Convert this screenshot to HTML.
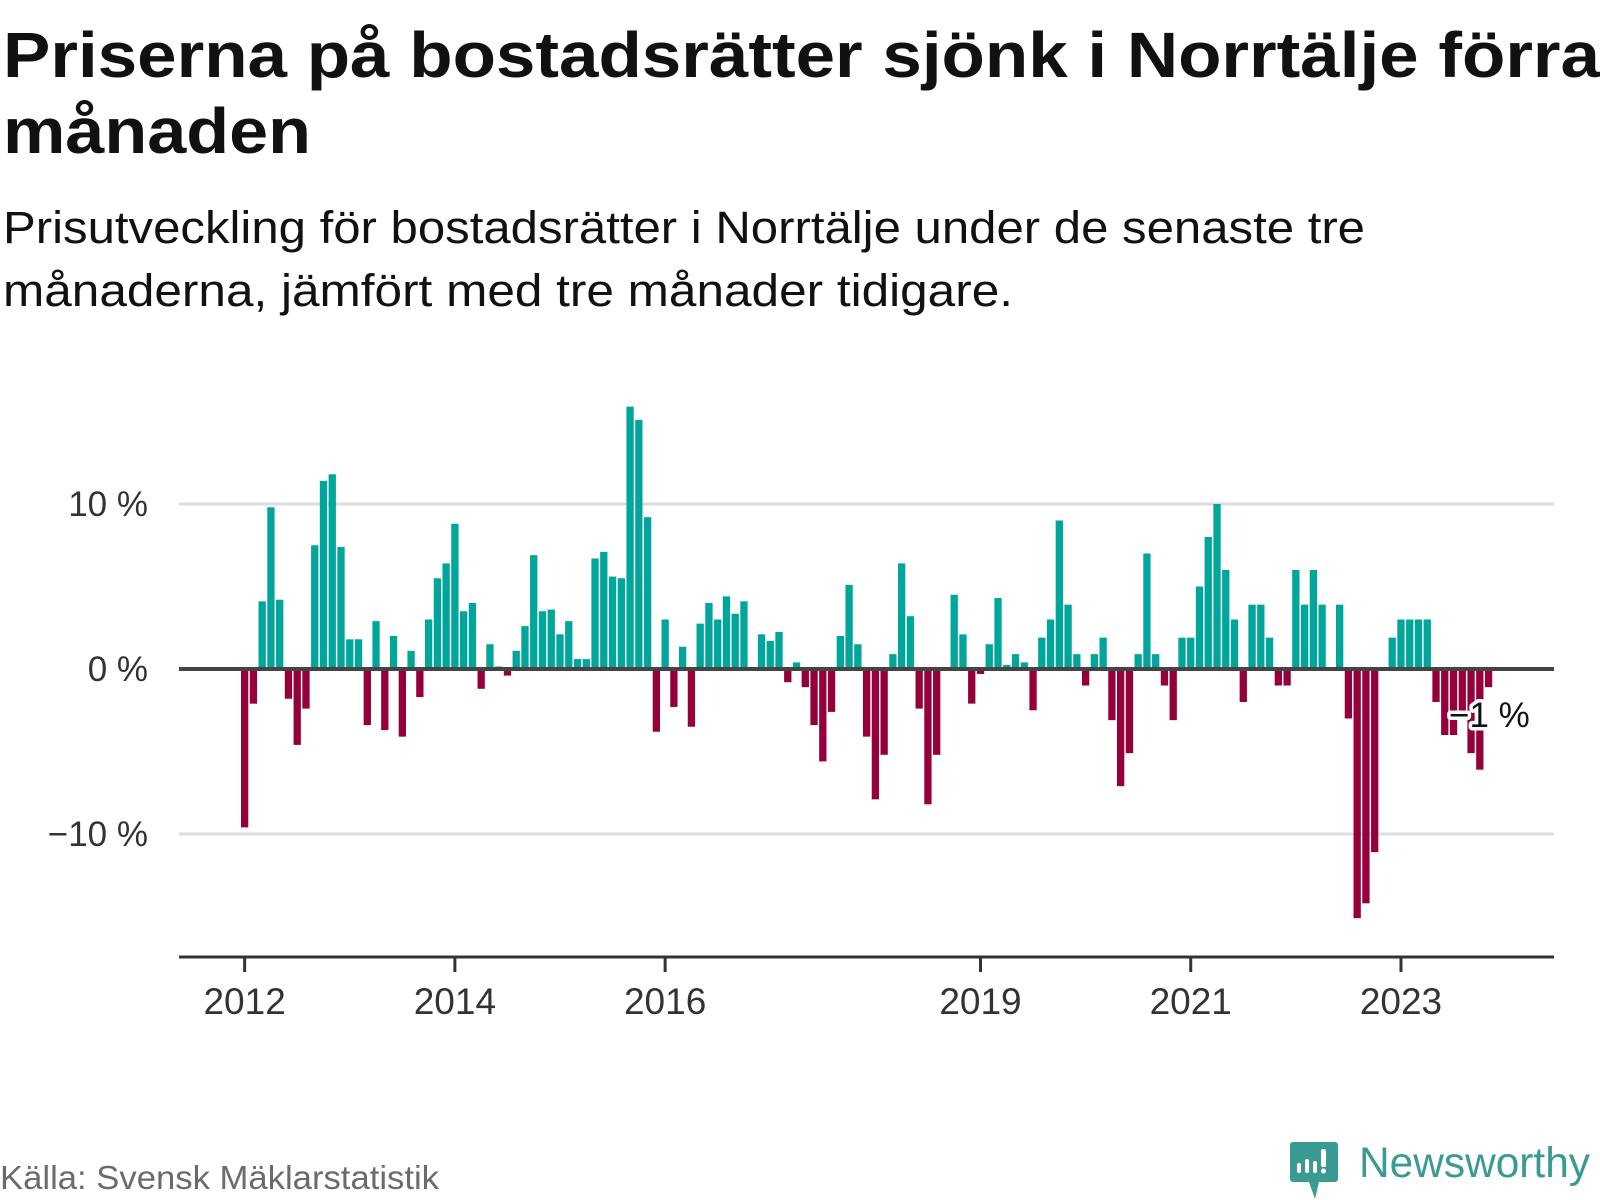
<!DOCTYPE html>
<html><head><meta charset="utf-8"><title>Norrtälje bostadsrätter</title>
<style>
html,body{margin:0;padding:0;background:#fff;}
svg{display:block;font-family:"Liberation Sans",sans-serif;}
</style></head>
<body>
<svg id="chart" width="1600" height="1200" viewBox="0 0 1600 1200" xmlns="http://www.w3.org/2000/svg">
  <g>
    <text x="3" y="77" font-size="64" font-weight="bold" fill="#111" textLength="1597" lengthAdjust="spacingAndGlyphs">Priserna på bostadsrätter sjönk i Norrtälje förra</text>
    <text x="3" y="153" font-size="64" font-weight="bold" fill="#111" textLength="308" lengthAdjust="spacingAndGlyphs">månaden</text>
    <text x="3" y="243" font-size="45" fill="#111" textLength="1362" lengthAdjust="spacingAndGlyphs">Prisutveckling för bostadsrätter i Norrtälje under de senaste tre</text>
    <text x="3" y="306" font-size="45" fill="#111" textLength="1010" lengthAdjust="spacingAndGlyphs">månaderna, jämfört med tre månader tidigare.</text>
  </g>
  <g id="grid"></g>
  <g id="bars"></g>
  <g id="axes"></g>
  <g>
    <text x="0" y="1189" font-size="33" fill="#6b6b6b" textLength="439" lengthAdjust="spacingAndGlyphs">Källa: Svensk Mäklarstatistik</text>
    <g>
      <path d="M1293 1142 h42 a3 3 0 0 1 3 3 v34 a3 3 0 0 1 -3 3 h-16 l-4 17 l-6 -17 h-16 a3 3 0 0 1 -3 -3 v-34 a3 3 0 0 1 3 -3z" fill="#3a9a94"/>
      <rect x="1297" y="1163" width="4" height="10" rx="2" fill="#fff"/>
      <rect x="1305" y="1159" width="4" height="14" rx="2" fill="#fff"/>
      <rect x="1313" y="1161" width="4" height="12" rx="2" fill="#fff"/>
      <rect x="1321" y="1149" width="5" height="18" rx="2" fill="#fff"/>
      <circle cx="1323.5" cy="1171" r="2.5" fill="#fff"/>
      <text x="1359" y="1177" font-size="43" fill="#3a9a94" textLength="231" lengthAdjust="spacingAndGlyphs">Newsworthy</text>
    </g>
  </g>
</svg>
<script>
// Monthly change (%) Jan 2012 .. Nov 2023
const startYear = 2012;
const values2012 = [-9.6,-2.1,4.1,9.8,4.2,-1.8,-4.6,-2.4,7.5,11.4,11.8,7.4];
const values2013 = [1.8,1.8,-3.4,2.9,-3.7,2.0,-4.1,1.1,-1.7,3.0,5.5,6.4];
const values2014 = [8.8,3.5,4.0,-1.2,1.5,0.15,-0.4,1.1,2.6,6.9,3.5,3.6];
const values2015 = [2.1,2.9,0.6,0.6,6.7,7.1,5.6,5.5,15.9,15.1,9.2,-3.8];
const values2016 = [3.0,-2.3,1.35,-3.5,2.75,4.0,3.0,4.4,3.35,4.1,0,2.1];
const values2017 = [1.7,2.25,-0.8,0.4,-1.1,-3.4,-5.6,-2.6,2.0,5.1,1.5,-4.1];
const values2018 = [-7.9,-5.2,0.9,6.4,3.2,-2.4,-8.2,-5.2,0,4.5,2.1,-2.1];
const values2019 = [-0.3,1.5,4.3,0.25,0.9,0.4,-2.5,1.9,3.0,9.0,3.9,0.9];
const values2020 = [-1.0,0.9,1.9,-3.1,-7.1,-5.1,0.9,7.0,0.9,-1.0,-3.1,1.9];
const values2021 = [1.9,5.0,8.0,10.0,6.0,3.0,-2.0,3.9,3.9,1.9,-1.0,-1.0];
const values2022 = [6.0,3.9,6.0,3.9,0,3.9,-3.0,-15.1,-14.2,-11.1,0,1.9];
const values2023 = [3.0,3.0,3.0,3.0,-2.0,-4.0,-4.0,-3.0,-5.1,-6.1,-1.1];
const yTickValues = [10,0,-10];
const yTickLabels = ["10 %","0 %","−10 %"];
const xTickYears = [2012,2014,2016,2019,2021,2023];
const lastLabel = "−1 %";

const values = [].concat(values2012,values2013,values2014,values2015,values2016,values2017,
  values2018,values2019,values2020,values2021,values2022,values2023);

const NS = "http://www.w3.org/2000/svg";
const plotLeft = 179, plotRight = 1554;
const step = 8.76, barW = 7.3, firstBarLeft = 241;
function x(i){ return firstBarLeft + i*step; }
function xc(i){ return x(i) + barW/2; }
function y(v){ return 669 - v*16.5; }
function mk(tag, attrs, parent){
  const el = document.createElementNS(NS, tag);
  for (const k in attrs) el.setAttribute(k, attrs[k]);
  parent.appendChild(el);
  return el;
}
const grid = document.getElementById('grid');
const bars = document.getElementById('bars');
const axes = document.getElementById('axes');

yTickValues.forEach((v,k)=>{
  if (v !== 0) {
    const gl = mk('line',{x1:plotLeft,x2:plotRight,y1:y(v),y2:y(v),stroke:'#dddddd','stroke-width':3},grid);
    
    
  }
  const t = mk('text',{x:148,y:y(v)+12,'text-anchor':'end','font-size':35,fill:'#333'},axes);
  t.textContent = yTickLabels[k];
  
  
});

values.forEach((v,i)=>{
  const top = Math.min(y(v), y(0)), h = Math.abs(y(v)-y(0));
  const r = mk('rect',{x:x(i).toFixed(2),y:top.toFixed(2),width:barW,height:h.toFixed(2),fill:v>=0?'#00a59b':'#95003b'},bars);
  
  
});

const zl = mk('line',{x1:plotLeft,x2:plotRight,y1:y(0),y2:y(0),stroke:'#444','stroke-width':4},axes);



const xl = mk('line',{x1:plotLeft,x2:plotRight,y1:957,y2:957,stroke:'#333','stroke-width':3},axes);



xTickYears.forEach(yr=>{
  const i = (yr-startYear)*12;
  const tk = mk('line',{x1:xc(i),x2:xc(i),y1:957,y2:972,stroke:'#333','stroke-width':3},axes);
  
  
  const t = mk('text',{x:xc(i),y:1014,'text-anchor':'middle','font-size':37,fill:'#333'},axes);
  t.textContent = yr;
  
  
});

const lbl = mk('text',{x:1449,y:727,'font-size':35,fill:'#111',stroke:'#fff','stroke-width':7,'paint-order':'stroke','stroke-linejoin':'round'},axes);
lbl.textContent = lastLabel;


</script>
</body></html>
